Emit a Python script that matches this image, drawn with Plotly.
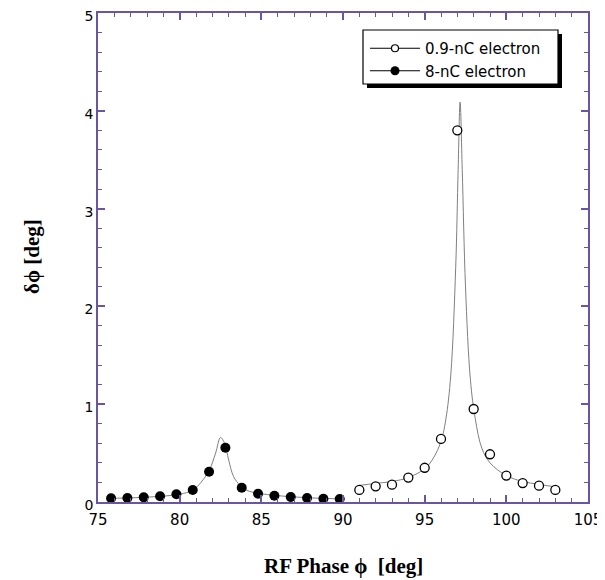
import plotly.graph_objects as go

# 0.9-nC electron (open circles)
phase_09 = [91, 92, 93, 94, 95, 96, 97, 98, 99, 100, 101, 102, 103]
dphi_09 = [0.123, 0.16, 0.177, 0.25, 0.35, 0.645, 3.80, 0.951, 0.488, 0.27, 0.194, 0.167, 0.123]

# 8-nC electron (filled circles)
phase_8 = [75.8, 76.8, 77.8, 78.8, 79.8, 80.8, 81.8, 82.8, 83.8, 84.8, 85.8, 86.8, 87.8, 88.8, 89.8]
dphi_8 = [0.038, 0.041, 0.048, 0.058, 0.079, 0.123, 0.31, 0.555, 0.146, 0.085, 0.064, 0.051, 0.041, 0.034, 0.031]

# fitted curves
fit09_x = [91.0, 92, 93, 94, 95, 95.5, 96, 96.3, 96.6, 96.9, 97.05, 97.17, 97.3, 97.5, 97.8, 98.1, 98.5, 99, 100, 101, 102, 103.2]
fit09_y = [0.17, 0.19, 0.21, 0.25, 0.34, 0.44, 0.62, 0.85, 1.3, 2.4, 3.4, 4.09, 3.4, 2.2, 1.25, 0.85, 0.55, 0.40, 0.27, 0.21, 0.18, 0.15]
fit8_x = [75.8, 77, 78, 79, 80, 80.8, 81.3, 81.8, 82.2, 82.5, 82.75, 83.0, 83.3, 83.7, 84.1, 84.8, 86, 87, 88, 89, 89.8]
fit8_y = [0.038, 0.042, 0.05, 0.06, 0.08, 0.12, 0.2, 0.32, 0.5, 0.66, 0.6, 0.43, 0.26, 0.17, 0.12, 0.09, 0.065, 0.052, 0.042, 0.036, 0.032]

legend_names = ["0.9-nC electron", "8-nC electron"]
x_title = "<b>RF Phase \u03d5  [deg]</b>"
y_title = "<b>\u03b4\u03d5 [deg]</b>"

AX = "#6a55a3"
fig = go.Figure()

fig.add_trace(go.Scatter(x=fit8_x, y=fit8_y, mode="lines", line=dict(color="#808080", width=1),
                         showlegend=False, line_shape="spline"))
fig.add_trace(go.Scatter(x=fit09_x, y=fit09_y, mode="lines", line=dict(color="#808080", width=1),
                         showlegend=False, line_shape="spline"))
fig.add_trace(go.Scatter(x=phase_8, y=dphi_8, mode="markers",
                         marker=dict(symbol="circle", size=10, color="black"), showlegend=False))
fig.add_trace(go.Scatter(x=phase_09, y=dphi_09, mode="markers",
                         marker=dict(symbol="circle", size=9, color="white", line=dict(color="black", width=1.3)),
                         showlegend=False))

# legend entries
fig.add_trace(go.Scatter(x=[None], y=[None], mode="lines+markers", name=legend_names[0],
                         line=dict(color="black", width=1),
                         marker=dict(symbol="circle", size=7, color="white", line=dict(color="black", width=1.2))))
fig.add_trace(go.Scatter(x=[None], y=[None], mode="lines+markers", name=legend_names[1],
                         line=dict(color="black", width=1),
                         marker=dict(symbol="circle", size=9, color="black")))

axis_common = dict(showline=True, linecolor=AX, linewidth=1.5, mirror="ticks", ticks="inside",
                   tickcolor=AX, tickwidth=1.5, ticklen=7, showgrid=False, zeroline=False,
                   automargin=False, ticklabeloverflow="allow")

fig.update_xaxes(range=[75, 105], dtick=5, tick0=75, ticklabelstandoff=3,
                 tickfont=dict(family="DejaVu Sans", size=15, color="black"),
                 minor=dict(dtick=1, ticks="inside", ticklen=4, tickcolor=AX, tickwidth=1.2),
                 **axis_common)
fig.update_yaxes(range=[0, 5], dtick=1, tick0=0, ticklabelshift=3,
                 tickfont=dict(family="DejaVu Sans", size=14, color="black"),
                 minor=dict(dtick=0.2, ticks="inside", ticklen=4, tickcolor=AX, tickwidth=1.2),
                 **axis_common)

# page body adds an 8px offset, so the figure is laid out in page coords minus 8
OFF = 8
W, H = 605 - OFF, 580 - OFF
L, T = 98 - OFF, 13 - OFF
pw, ph = 490, 489
R, B = W - L - pw, H - T - ph

def px_x(p):
    return (p - OFF - L) / pw

def px_y(p):
    return (T + ph - (p - OFF)) / ph

# legend box with drop shadow (page pixel coords)
leg_l, leg_t, leg_r, leg_b = 363, 30, 558, 84
shapes = [
    dict(type="rect", xref="paper", yref="paper", x0=px_x(leg_l + 4), x1=px_x(leg_r + 4),
         y0=px_y(leg_b + 4), y1=px_y(leg_t + 4), fillcolor="black", line=dict(width=0), layer="above"),
    dict(type="rect", xref="paper", yref="paper", x0=px_x(leg_l), x1=px_x(leg_r),
         y0=px_y(leg_b), y1=px_y(leg_t), fillcolor="white", line=dict(color="black", width=1.2), layer="above"),
]

annotations = [
    dict(text=x_title, xref="paper", yref="paper", x=0.5, y=px_y(566), xanchor="center", yanchor="middle",
         showarrow=False, font=dict(family="Liberation Serif", size=21, color="black")),
    dict(text=y_title, xref="paper", yref="paper", x=px_x(32), y=px_y(257), xanchor="center", yanchor="middle",
         textangle=-90, showarrow=False, font=dict(family="Liberation Serif", size=21, color="black")),
]

fig.update_layout(
    width=W, height=H,
    margin=dict(l=L, r=R, t=T, b=B),
    paper_bgcolor="white", plot_bgcolor="white",
    shapes=shapes, annotations=annotations,
    legend=dict(x=px_x(leg_l + 2), y=px_y(leg_t + 2), xanchor="left", yanchor="top",
                borderwidth=0, bgcolor="rgba(0,0,0,0)",
                font=dict(family="DejaVu Sans", size=15, color="black"),
                tracegroupgap=0, itemwidth=50),
)

fig.write_html("out.html")
